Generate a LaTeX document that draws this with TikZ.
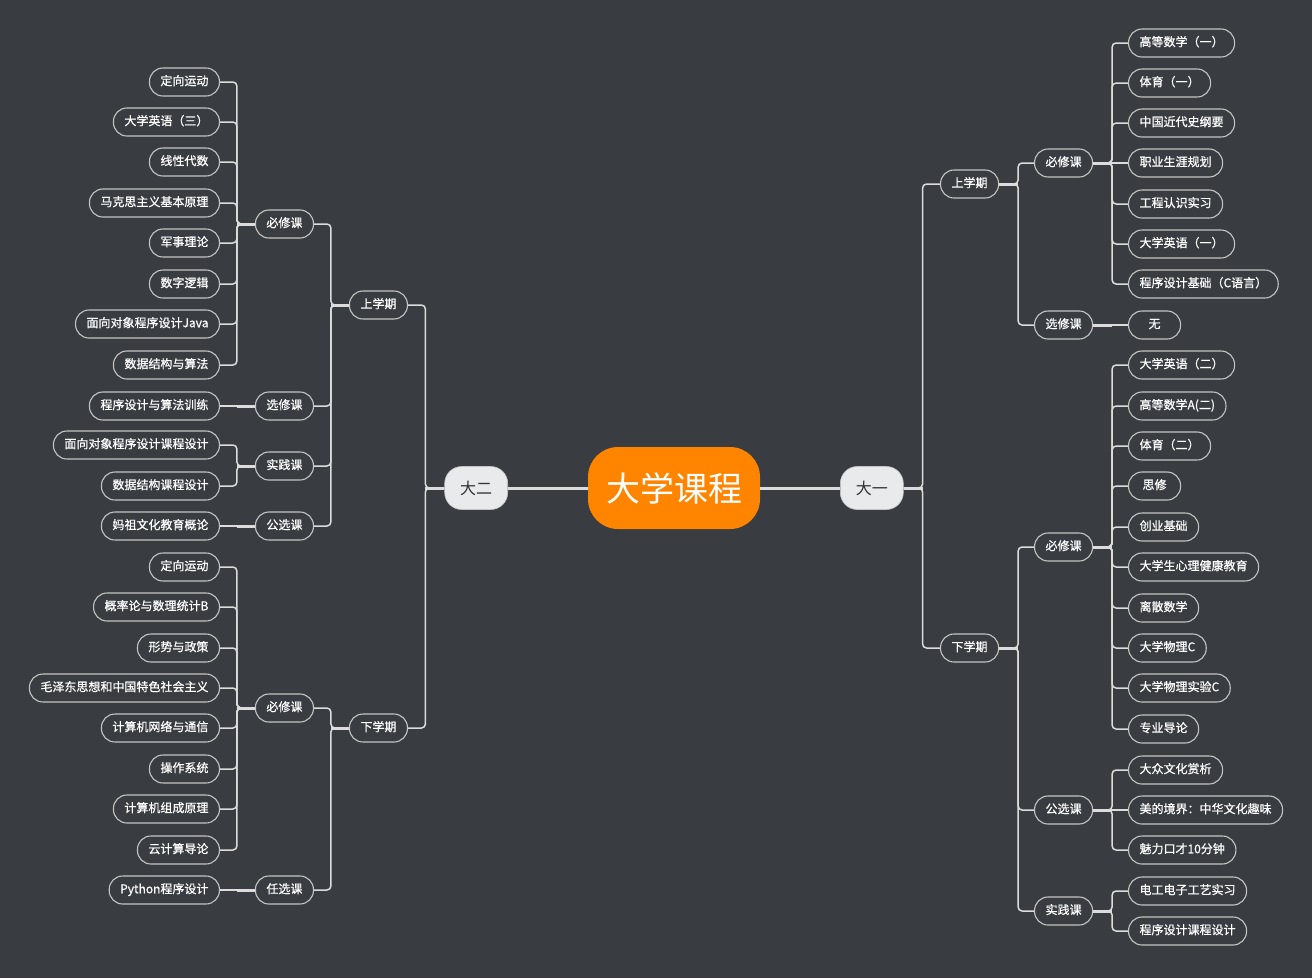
\documentclass[tikz,border=0pt]{standalone}
\usepackage{fontspec}
\setmainfont{Noto Sans CJK SC}
\newfontfamily\leaffont{Noto Sans CJK SC}[FakeBold=0.7]
\definecolor{bg}{HTML}{393C41}
\definecolor{bordc}{HTML}{C4C4C4}
\definecolor{linec}{HTML}{DCDCDC}
\definecolor{rootc}{HTML}{FF8500}
\definecolor{yearc}{HTML}{E9EAEC}
\definecolor{yeartext}{HTML}{333333}
\tikzset{
  pill/.style={draw=bordc, line width=1.1pt, fill=bg, text=white, rounded corners=13.5pt,
    minimum height=28pt, minimum width=52pt, inner xsep=11pt, inner ysep=0pt,
    font=\leaffont\fontsize{12}{12}\selectfont, text height=9pt, text depth=2.5pt},
  rleaf/.style={pill, anchor=west},
  lleaf/.style={pill, anchor=east},
  yearbox/.style={fill=yearc, draw=bordc, line width=0.6pt, text=yeartext, rounded corners=17pt,
    minimum width=63pt, minimum height=43pt, inner sep=0pt, font=\fontsize{16}{16}\selectfont},
  rootbox/.style={fill=rootc, text=white, rounded corners=30pt, minimum width=172pt,
    minimum height=82pt, inner sep=0pt, font=\fontsize{34}{34}\selectfont},
  conn/.style={draw=linec, line width=1.5pt, rounded corners=4pt},
  straight/.style={draw=linec, line width=1.5pt},
  stub/.style={draw=linec, line width=3pt},
}
\begin{document}
\begin{tikzpicture}[x=1pt,y=-1pt]
\path[fill=bg] (0,0) rectangle (1312,978);
% root and years
\node[rootbox] (root) at (674,488) {大学课程};
\node[yearbox, anchor=west] (d1) at (840,488) {大一};
\node[yearbox, anchor=east] (d2) at (508,488) {大二};
\draw[stub] (root.east) -- (d1.west);
\draw[stub] (root.west) -- (d2.east);
% ===== right side =====
\node[rleaf] (r1) at (940,184) {上学期};
\node[rleaf] (r2) at (940,648) {下学期};
\node[rleaf] (r1a) at (1034,163) {必修课};
\node[rleaf] (r1b) at (1034,325) {选修课};
\node[rleaf] (r2a) at (1034,547) {必修课};
\node[rleaf] (r2b) at (1034,810) {公选课};
\node[rleaf] (r2c) at (1034,911) {实践课};
\node[rleaf] (r1a1) at (1128,43) {高等数学（一）};
\node[rleaf] (r1a2) at (1128,83) {体育（一）};
\node[rleaf] (r1a3) at (1128,123) {中国近代史纲要};
\node[rleaf] (r1a4) at (1128,163) {职业生涯规划};
\node[rleaf] (r1a5) at (1128,204) {工程认识实习};
\node[rleaf] (r1a6) at (1128,244) {大学英语（一）};
\node[rleaf] (r1a7) at (1128,284) {程序设计基础（C语言）};
\node[rleaf] (r1b1) at (1128,325) {无};
\node[rleaf] (r2a1) at (1128,365) {大学英语（二）};
\node[rleaf] (r2a2) at (1128,406) {高等数学A(二)};
\node[rleaf] (r2a3) at (1128,446) {体育（二）};
\node[rleaf] (r2a4) at (1128,486) {思修};
\node[rleaf] (r2a5) at (1128,527) {创业基础};
\node[rleaf] (r2a6) at (1128,567) {大学生心理健康教育};
\node[rleaf] (r2a7) at (1128,608) {离散数学};
\node[rleaf] (r2a8) at (1128,648) {大学物理C};
\node[rleaf] (r2a9) at (1128,688) {大学物理实验C};
\node[rleaf] (r2a10) at (1128,729) {专业导论};
\node[rleaf] (r2b1) at (1128,770) {大众文化赏析};
\node[rleaf] (r2b2) at (1128,810) {美的境界：中华文化趣味};
\node[rleaf] (r2b3) at (1128,850) {魅力口才10分钟};
\node[rleaf] (r2c1) at (1128,891) {电工电子工艺实习};
\node[rleaf] (r2c2) at (1128,931) {程序设计课程设计};
% right connectors
\foreach \c in {r1,r2} \draw[conn] (d1.east) -- ++(19,0) |- (\c.west);
\draw[stub] (d1.east) -- ++(19,0);
\foreach \p/\cs in {r1/{r1a,r1b}, r2/{r2a,r2b,r2c},
   r1a/{r1a1,r1a2,r1a3,r1a5,r1a6,r1a7},
   r2a/{r2a1,r2a2,r2a3,r2a4,r2a5,r2a6,r2a7,r2a8,r2a9,r2a10},
   r2b/{r2b1,r2b3}, r2c/{r2c1,r2c2}} {
  \foreach \c in \cs \draw[conn] (\p.east) -- ++(19,0) |- (\c.west);
  \draw[stub] (\p.east) -- ++(19,0);
}
\draw[straight] (r1a.east) -- (r1a4.west);
\draw[straight] (r1b.east) -- (r1b1.west);
\draw[straight] (r2b.east) -- (r2b2.west);
\draw[stub] (r1b.east) -- ++(19,0);
% ===== left side =====
\node[lleaf] (l1) at (408,305) {上学期};
\node[lleaf] (l2) at (408,728) {下学期};
\node[lleaf] (l1a) at (314,224) {必修课};
\node[lleaf] (l1b) at (314,406) {选修课};
\node[lleaf] (l1c) at (314,466) {实践课};
\node[lleaf] (l1d) at (314,526) {公选课};
\node[lleaf] (l2a) at (314,708) {必修课};
\node[lleaf] (l2b) at (314,890) {任选课};
\node[lleaf] (l1a1) at (220,82) {定向运动};
\node[lleaf] (l1a2) at (220,122) {大学英语（三）};
\node[lleaf] (l1a3) at (220,162) {线性代数};
\node[lleaf] (l1a4) at (220,203) {马克思主义基本原理};
\node[lleaf] (l1a5) at (220,243) {军事理论};
\node[lleaf] (l1a6) at (220,284) {数字逻辑};
\node[lleaf] (l1a7) at (220,324) {面向对象程序设计Java};
\node[lleaf] (l1a8) at (220,365) {数据结构与算法};
\node[lleaf] (l1b1) at (220,406) {程序设计与算法训练};
\node[lleaf] (l1c1) at (220,445) {面向对象程序设计课程设计};
\node[lleaf] (l1c2) at (220,486) {数据结构课程设计};
\node[lleaf] (l1d1) at (220,526) {妈祖文化教育概论};
\node[lleaf] (l2a1) at (220,567) {定向运动};
\node[lleaf] (l2a2) at (220,607) {概率论与数理统计B};
\node[lleaf] (l2a3) at (220,648) {形势与政策};
\node[lleaf] (l2a4) at (220,688) {毛泽东思想和中国特色社会主义};
\node[lleaf] (l2a5) at (220,728) {计算机网络与通信};
\node[lleaf] (l2a6) at (220,769) {操作系统};
\node[lleaf] (l2a7) at (220,809) {计算机组成原理};
\node[lleaf] (l2a8) at (220,850) {云计算导论};
\node[lleaf] (l2b1) at (220,890) {Python程序设计};
% left connectors
\foreach \c in {l1,l2} \draw[conn] (d2.west) -- ++(-19,0) |- (\c.east);
\draw[stub] (d2.west) -- ++(-19,0);
\foreach \p/\cs in {l1/{l1a,l1b,l1c,l1d}, l2/{l2a,l2b},
   l1a/{l1a1,l1a2,l1a3,l1a4,l1a5,l1a6,l1a7,l1a8},
   l1c/{l1c1,l1c2},
   l2a/{l2a1,l2a2,l2a3,l2a4,l2a5,l2a6,l2a7,l2a8}} {
  \foreach \c in \cs \draw[conn] (\p.west) -- ++(-18,0) |- (\c.east);
  \draw[stub] (\p.west) -- ++(-18,0);
}
\foreach \p/\c in {l1b/l1b1, l1d/l1d1, l2b/l2b1} {
  \draw[straight] (\p.west) -- (\c.east);
  \draw[stub] (\p.west) -- ++(-18,0);
}
\end{tikzpicture}
\end{document}
